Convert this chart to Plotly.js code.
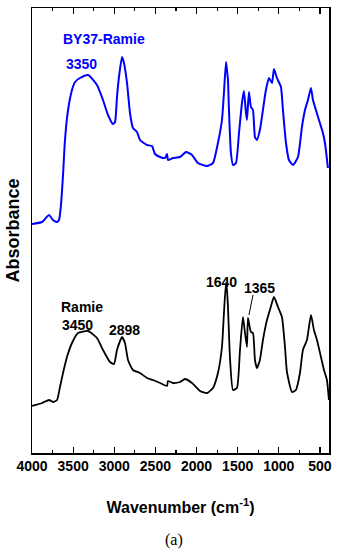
<!DOCTYPE html>
<html>
<head>
<meta charset="utf-8">
<script src="https://cdn.plot.ly/plotly-3.0.1.min.js"></script>
<style>html,body{margin:0;padding:0;background:#fff;}#chart{width:337px;height:550px;}</style>
</head>
<body>
<div id="chart"></div>
<script>
// Wavenumbers (cm-1) and absorbance (arbitrary units, offset)
const wnBY37 = [4000,3878,3793,3745,3696,3672,3648,3623,3599,3562,3514,3477,3417,3319,3210,3137,3076,3016,2991,2967,2943,2906,2882,2845,2809,2773,2724,2687,2602,2542,2505,2444,2384,2359,2347,2286,2201,2128,2055,1983,1873,1800,1740,1691,1667,1642,1630,1618,1606,1582,1557,1521,1484,1448,1424,1399,1387,1363,1339,1314,1290,1266,1230,1193,1157,1120,1083,1059,1023,974,950,913,877,828,767,719,682,646,609,585,549,512,464,439,403];
const absBY37 = [229,231,238,233,231,233,248,278,313,343,363,371,375,378,368,353,338,329,331,356,376,396,390,370,340,325,321,313,308,307,299,296,295,299,293,295,296,301,298,290,287,290,310,333,360,391,383,373,343,300,288,290,320,350,362,340,333,361,346,343,316,313,323,343,363,375,370,384,375,366,343,310,293,288,296,326,343,353,365,353,343,333,320,310,285];

const wnRamie = [4000,3878,3793,3745,3696,3660,3623,3575,3514,3441,3319,3210,3137,3052,3003,2967,2906,2870,2833,2773,2687,2602,2530,2444,2359,2347,2286,2201,2141,2055,1958,1873,1800,1740,1691,1667,1642,1630,1618,1594,1557,1509,1472,1436,1411,1387,1375,1339,1314,1290,1266,1230,1193,1144,1108,1059,1010,962,925,901,840,792,743,707,658,609,573,536,488,451,415,391];
const absRamie = [47,50,53,51,53,66,80,96,110,120,122,115,103,91,89,103,116,110,93,83,80,75,73,70,67,72,70,71,74,70,62,60,65,80,106,140,170,163,146,96,63,65,103,136,120,106,135,121,120,93,85,93,113,133,143,156,146,136,106,81,61,63,80,103,113,138,123,113,96,83,73,53];

const tickVals = [4000,3500,3000,2500,2000,1500,1000,500];
const tickText = ["4000","3500","3000","2500","2000","1500","1000","500"];

const labelText = ["BY37-Ramie","3350","Ramie","3450","2898","1640","1365"];
const labelWn   = [3125,3404,3392,3453,2870,1691,1229];
const labelAbs  = [414,389,146,128,123,171,165];
const labelColor= ["#0000ff","#0000ff","#000","#000","#000","#000","#000"];

const traces = [
  {x: wnBY37, y: absBY37, mode: 'lines', line: {color: '#0000ff', width: 2, shape: 'spline', smoothing: 0.5}, hoverinfo: 'skip', showlegend: false},
  {x: wnRamie, y: absRamie, mode: 'lines', line: {color: '#000000', width: 1.8, shape: 'spline', smoothing: 0.5}, hoverinfo: 'skip', showlegend: false}
];

const annotations = labelText.map((t, i) => ({
  x: labelWn[i], y: labelAbs[i], xref: 'x', yref: 'y', text: t, showarrow: false,
  font: {family: 'Liberation Sans, Arial, sans-serif', size: 14, weight: 'bold', color: labelColor[i]},
  xanchor: 'center', yanchor: 'middle'
}));
annotations.push({
  x: 0.478, y: -0.1955, xref: 'paper', yref: 'paper', text: '(a)', showarrow: false,
  font: {family: 'Liberation Serif, Times New Roman, serif', size: 16, color: '#000'},
  xanchor: 'center', yanchor: 'middle'
});

const layout = {
  width: 337, height: 550,
  margin: {l: 32, r: 8, t: 8, b: 97},
  paper_bgcolor: '#fff', plot_bgcolor: '#fff',
  font: {family: 'Liberation Sans, Arial, sans-serif', color: '#000'},
  xaxis: {
    range: [4000, 390], showgrid: false, zeroline: false,
    showline: true, linecolor: '#000', linewidth: 1.5, mirror: 'allticks',
    ticks: 'inside', ticklen: 6, tickwidth: 1.2, tickcolor: '#000',
    tickmode: 'array', tickvals: tickVals, ticktext: tickText,
    tickfont: {size: 14, weight: 'bold', color: '#000'},
    minor: {tickmode: 'linear', tick0: 250, dtick: 500, ticks: 'inside', ticklen: 3, tickwidth: 1.2, tickcolor: '#000', showgrid: false},
    title: {text: 'Wavenumber (cm<sup>-1</sup>)', font: {size: 16, weight: 'bold', color: '#000'}, standoff: 28}
  },
  yaxis: {
    range: [0, 445], showgrid: false, zeroline: false,
    showline: true, linecolor: '#000', linewidth: 1.5, mirror: true,
    ticks: '', showticklabels: false,
    title: {text: 'Absorbance', font: {size: 18, weight: 'bold', color: '#000'}, standoff: 6}
  },
  shapes: [
    {type: 'line', xref: 'x', yref: 'y', x0: 1314, y0: 158, x1: 1363, y1: 138, line: {color: '#000', width: 1}}
  ],
  annotations: annotations
};

Plotly.newPlot('chart', traces, layout, {staticPlot: true, displayModeBar: false});
</script>
</body>
</html>
